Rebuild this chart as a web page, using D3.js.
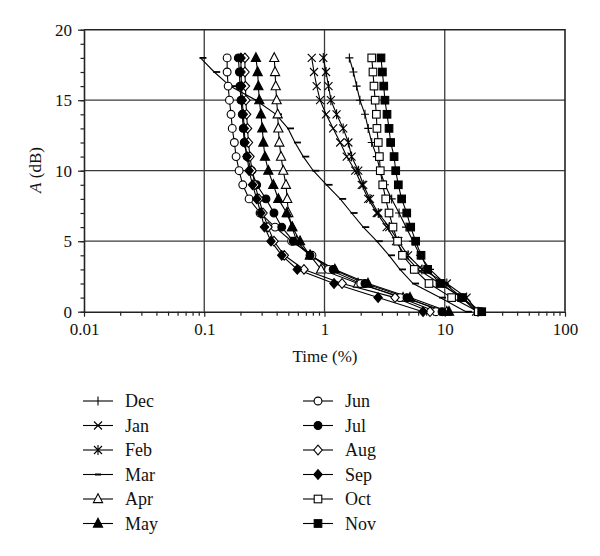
<!DOCTYPE html>
<html>
<head>
<meta charset="utf-8">
<script src="https://cdn.jsdelivr.net/npm/d3@7"></script>
<style>
  body { margin: 0; background: #fff; }
  text { font-family: "Liberation Serif", "DejaVu Serif", serif; fill: #111; }
</style>
</head>
<body>
<svg id="chart" width="600" height="556"></svg>
<script>
// attenuation levels (dB), one point per level
const levels = [18, 17, 16, 15, 14, 13, 12, 11, 10, 9, 8, 7, 6, 5, 4, 3, 2, 1, 0]

// time percentages exceeded
const dec = [1.61, 1.74, 1.85, 1.97, 2.17, 2.31, 2.47, 2.72, 2.90, 3.18, 3.62, 4.17, 4.76, 5.45, 6.22, 7.54, 10.0, 13.9, 18.9]
const jan = [0.783, 0.818, 0.861, 0.918, 1.03, 1.18, 1.35, 1.53, 1.80, 2.04, 2.31, 2.72, 3.29, 3.93, 4.67, 5.99, 9.13, 13.9, 18.2]
const feb = [0.977, 1.03, 1.08, 1.13, 1.26, 1.43, 1.58, 1.68, 1.91, 2.10, 2.39, 2.80, 3.46, 4.11, 4.95, 6.47, 10.4, 15.2, 18.9]
const mar = [0.093, 0.121, 0.164, 0.269, 0.395, 0.497, 0.568, 0.666, 0.807, 1.04, 1.35, 1.68, 2.10, 2.72, 3.44, 4.24, 5.45, 9.13, 15.0]
const apr = [0.382, 0.388, 0.393, 0.400, 0.408, 0.413, 0.421, 0.435, 0.454, 0.478, 0.490, 0.500, 0.537, 0.587, 0.758, 0.935, 1.90, 4.50, 10.4]
const may = [0.269, 0.278, 0.282, 0.287, 0.296, 0.304, 0.310, 0.320, 0.341, 0.375, 0.413, 0.485, 0.540, 0.626, 0.758, 1.22, 2.30, 5.14, 10.85]
const jun = [0.155, 0.155, 0.158, 0.162, 0.167, 0.171, 0.178, 0.184, 0.195, 0.209, 0.236, 0.291, 0.388, 0.533, 0.787, 1.08, 2.00, 4.25, 8.46]
const jul = [0.192, 0.196, 0.198, 0.202, 0.207, 0.211, 0.215, 0.227, 0.248, 0.273, 0.326, 0.380, 0.441, 0.550, 0.758, 1.18, 2.17, 4.85, 9.49]
const aug = [0.218, 0.218, 0.220, 0.222, 0.225, 0.229, 0.233, 0.240, 0.250, 0.264, 0.285, 0.308, 0.339, 0.380, 0.463, 0.675, 1.40, 3.86, 7.54]
const sep = [0.202, 0.202, 0.204, 0.207, 0.211, 0.215, 0.218, 0.227, 0.236, 0.252, 0.273, 0.295, 0.317, 0.359, 0.441, 0.594, 1.20, 2.79, 6.60]
const oct = [2.47, 2.53, 2.58, 2.64, 2.70, 2.73, 2.80, 2.86, 2.91, 3.05, 3.23, 3.44, 3.71, 4.05, 4.45, 5.58, 7.40, 11.4, 19.0]
const nov = [2.95, 3.03, 3.11, 3.18, 3.31, 3.44, 3.55, 3.79, 3.91, 4.11, 4.38, 4.83, 5.21, 5.73, 6.35, 7.21, 9.13, 13.8, 20.3]

const monthNames = ['Dec', 'Jan', 'Feb', 'Mar', 'Apr', 'May', 'Jun', 'Jul', 'Aug', 'Sep', 'Oct', 'Nov']
const monthValues = [dec, jan, feb, mar, apr, may, jun, jul, aug, sep, oct, nov]
const monthMarks = ['plus', 'cross', 'star', 'dash', 'triOpen', 'triFill',
                    'circOpen', 'circFill', 'diaOpen', 'diaFill', 'sqOpen', 'sqFill']

const xTicks = [0.01, 0.1, 1, 10, 100]
const yTicks = [0, 5, 10, 15, 20]

const svg = d3.select('#chart')
const pLeft = 84, pRight = 565, pTop = 29.7, pBottom = 311.7

const x = d3.scaleLog().domain([0.01, 100]).range([pLeft, pRight])
const y = d3.scaleLinear().domain([0, 20]).range([pBottom, pTop])

// grid
const grid = svg.append('g').attr('stroke', '#3a3a3a').attr('stroke-width', 1.3)
grid.selectAll('line.gx').data(xTicks.slice(1, -1)).enter().append('line')
    .attr('x1', d => x(d)).attr('x2', d => x(d)).attr('y1', pTop).attr('y2', pBottom)
grid.selectAll('line.gy').data(yTicks.slice(1, -1)).enter().append('line')
    .attr('y1', d => y(d)).attr('y2', d => y(d)).attr('x1', pLeft).attr('x2', pRight)

// frame top/right
svg.append('path')
    .attr('d', `M${pLeft},${pTop}H${pRight}V${pBottom}`)
    .attr('fill', 'none').attr('stroke', '#222').attr('stroke-width', 1.6)

// minor ticks
const xMinor = []
for (let e = -2; e < 2; e++) for (let m = 2; m < 10; m++) xMinor.push(m * Math.pow(10, e))
svg.append('g').attr('transform', `translate(0,${pBottom})`)
    .call(d3.axisBottom(x).tickValues(xMinor).tickSize(4).tickFormat(''))
    .call(g => g.select('.domain').remove())
svg.append('g').attr('transform', `translate(${pLeft},0)`)
    .call(d3.axisLeft(y).tickValues(d3.range(0, 21)).tickSize(3.5).tickFormat(''))
    .call(g => g.select('.domain').remove())

// major axes
svg.append('g').attr('transform', `translate(0,${pBottom})`)
    .call(d3.axisBottom(x).tickValues(xTicks).tickSize(5).tickSizeOuter(0).tickPadding(6)
        .tickFormat(d => d < 1 ? String(d) : d3.format('d')(d)))
svg.append('g').attr('transform', `translate(${pLeft},0)`)
    .call(d3.axisLeft(y).tickValues(yTicks).tickSize(6).tickSizeOuter(0).tickPadding(6))
svg.selectAll('.tick line').attr('stroke', '#222').attr('stroke-width', 1.2)
svg.selectAll('.domain').attr('stroke', '#222').attr('stroke-width', 1.6)
svg.selectAll('.tick text').style('font-family', '"Liberation Serif", serif')
    .style('font-size', '17px').attr('fill', '#111')

// axis titles
svg.append('text').attr('x', 325).attr('y', 362).attr('text-anchor', 'middle')
    .style('font-size', '17px').text('Time (%)')
const yt = svg.append('text').attr('transform', 'translate(41,170) rotate(-90)')
    .attr('text-anchor', 'middle').style('font-size', '17px')
yt.append('tspan').style('font-style', 'italic').text('A')
yt.append('tspan').text(' (dB)')

function marker(g, type, cx, cy) {
    const s = g.append('g').attr('transform', `translate(${cx},${cy})`)
        .attr('stroke', '#000').attr('stroke-width', 1.1)
    const open = '#fff', full = '#000'
    if (type === 'plus') {
        s.append('path').attr('d', 'M-4,0H4M0,-4.5V4.5').attr('fill', 'none')
    } else if (type === 'cross') {
        s.append('path').attr('d', 'M-4,-4L4,4M-4,4L4,-4').attr('fill', 'none')
    } else if (type === 'star') {
        s.append('path').attr('d', 'M-4,-4L4,4M-4,4L4,-4M0,-5V5').attr('fill', 'none')
    } else if (type === 'dash') {
        s.append('path').attr('d', 'M-1,0H6').attr('stroke-width', 1.8)
    } else if (type.startsWith('tri')) {
        s.append('path').attr('d', 'M0,-5.2L4.6,3.6H-4.6Z')
            .attr('fill', type === 'triFill' ? full : open)
    } else if (type.startsWith('circ')) {
        s.append('circle').attr('r', 3.9).attr('fill', type === 'circFill' ? full : open)
    } else if (type.startsWith('dia')) {
        s.append('path').attr('d', 'M0,-4.8L4.2,0L0,4.8L-4.2,0Z')
            .attr('fill', type === 'diaFill' ? full : open)
    } else if (type.startsWith('sq')) {
        s.append('rect').attr('x', -3.8).attr('y', -3.8).attr('width', 7.6).attr('height', 7.6)
            .attr('fill', type === 'sqFill' ? full : open)
    }
}

const line = d3.line().x(d => x(d[0])).y(d => y(d[1]))
const plot = svg.append('g')

monthValues.forEach((vals, i) => {
    const pts = vals.map((v, j) => [v, levels[j]])
    plot.append('path').datum(pts).attr('d', line)
        .attr('fill', 'none').attr('stroke', '#000').attr('stroke-width', 1.1)
})
monthValues.forEach((vals, i) => {
    vals.forEach((v, j) => marker(plot, monthMarks[i], x(v), y(levels[j])))
})

// legend
const legend = svg.append('g')
const rowY = [401, 425.5, 450, 474.5, 499, 523.5]
monthNames.forEach((name, i) => {
    const col = Math.floor(i / 6), row = i % 6
    const lx = col === 0 ? 83 : 303
    const ly = rowY[row]
    legend.append('line').attr('x1', lx).attr('x2', lx + 30).attr('y1', ly).attr('y2', ly)
        .attr('stroke', '#000').attr('stroke-width', 1.1)
    if (monthMarks[i] === 'dash') {
        legend.append('path').attr('d', `M${lx + 12},${ly}H${lx + 18}`)
            .attr('stroke', '#000').attr('stroke-width', 2)
    } else if (monthMarks[i] === 'plus') {
        legend.append('path').attr('d', `M${lx + 15},${ly - 4.5}V${ly + 4.5}`)
            .attr('stroke', '#000').attr('stroke-width', 1.1)
    } else {
        marker(legend, monthMarks[i], lx + 15, ly)
    }
    legend.append('text').attr('x', lx + 42).attr('y', ly + 6)
        .style('font-size', '18px').text(name)
})
</script>
</body>
</html>
